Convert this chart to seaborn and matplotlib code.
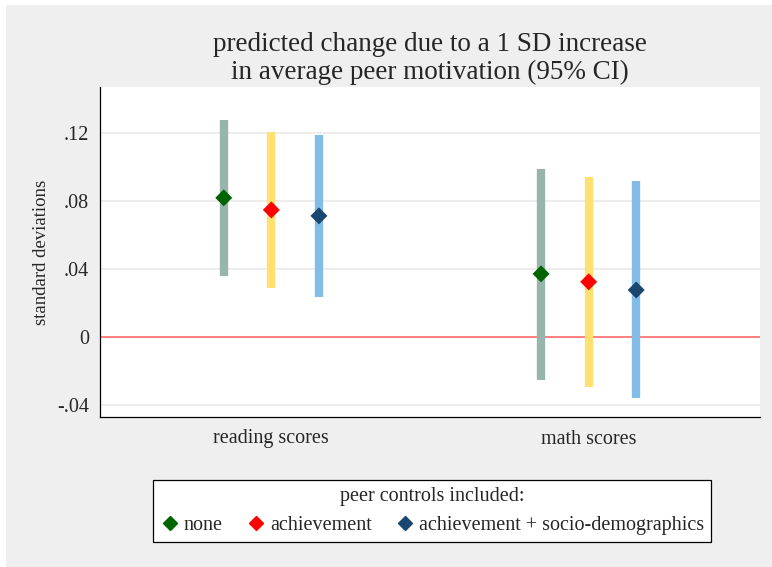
import numpy as np
import pandas as pd
import matplotlib.pyplot as plt
import seaborn as sns
from matplotlib.patches import Rectangle
from matplotlib.lines import Line2D

# values
outcomes = ['reading scores', 'math scores']
controls = ['none', 'achievement', 'achievement + socio-demographics']
est = {'none': [0.0818, 0.0371],
       'achievement': [0.0747, 0.0324],
       'achievement + socio-demographics': [0.0712, 0.0276]}
lo = {'none': [0.0359, -0.0253],
      'achievement': [0.0288, -0.0294],
      'achievement + socio-demographics': [0.0235, -0.0359]}
hi = {'none': [0.1276, 0.0988],
      'achievement': [0.1206, 0.0941],
      'achievement + socio-demographics': [0.1188, 0.0918]}

bar_cols = ['#98b5ad', '#ffe070', '#82bde8']
pt_cols = ['#006400', '#ff0000', '#1a476f']
offsets = [-0.15, 0.0, 0.15]

rows = []
for i, c in enumerate(controls):
    for j, o in enumerate(outcomes):
        rows.append({'x': j + offsets[i], 'est': est[c][j], 'lo': lo[c][j],
                     'hi': hi[c][j], 'control': c})
df = pd.DataFrame(rows)

sns.set_style('white')
plt.rcParams['font.family'] = ['Liberation Serif', 'DejaVu Serif']

fig = plt.figure(figsize=(7.72, 5.67), dpi=100, facecolor='white')
fig.patches.append(Rectangle((6/772, 0), 1, 1 - 5/567, transform=fig.transFigure,
                             facecolor='#efefef', edgecolor='none', zorder=-10))
ax = fig.add_axes([100/772, 1 - 417/567, 660/772, 330/567])
ax.set_facecolor('white')

for i, c in enumerate(controls):
    d = df[df['control'] == c]
    ax.vlines(d['x'], d['lo'], d['hi'], color=bar_cols[i], lw=6, zorder=2)

sns.scatterplot(data=df, x='x', y='est', hue='control', hue_order=controls,
                palette=pt_cols, marker='D', s=75, edgecolor='none',
                legend=False, ax=ax, zorder=3)

ax.axhline(0, color='#ff6a6a', lw=1.2, zorder=1)
for yv in [-0.04, 0.04, 0.08, 0.12]:
    ax.axhline(yv, color='#eaeaea', lw=1.2, zorder=0)

ax.set_xlim(-0.54, 1.54)
ax.set_ylim(-0.0471, 0.147)
ax.set_xticks([0, 1])
ax.set_xticklabels(outcomes, fontsize=14.5)
ax.set_yticks([-0.04, 0, 0.04, 0.08, 0.12])
ax.set_yticklabels(['-.04', '0', '.04', '.08', '.12'], fontsize=14.5)
ax.tick_params(axis='y', direction='out', length=5, width=0.8, color='black', pad=3)
ax.tick_params(axis='x', direction='in', length=4, width=0.8, color='black', pad=9)
ax.set_xlabel('')
ax.set_ylabel('standard deviations', fontsize=13.5, labelpad=5)
for s in ['top', 'right']:
    ax.spines[s].set_visible(False)
for s in ['left', 'bottom']:
    ax.spines[s].set_color('black')
    ax.spines[s].set_linewidth(0.9)

ax.set_title('predicted change due to a 1 SD increase\nin average peer motivation (95% CI)',
             fontsize=19.5, linespacing=1.15, pad=6)

handles = [Line2D([], [], marker='D', color=pt_cols[i], ls='none', markersize=7)
           for i in range(3)]
leg = fig.legend(handles, controls, title='peer controls included:', ncol=3,
                 loc='center', bbox_to_anchor=(432/772, 1 - 511/567),
                 fontsize=14.5, title_fontsize=14.5, frameon=True, fancybox=False,
                 framealpha=1, handletextpad=0.2, columnspacing=1.15, borderpad=0.35,
                 handlelength=1.0, borderaxespad=0)
leg.get_frame().set_edgecolor('black')
leg.get_frame().set_linewidth(0.9)
leg.get_frame().set_facecolor('white')

fig.savefig('out.png', dpi=100, facecolor=fig.get_facecolor())
